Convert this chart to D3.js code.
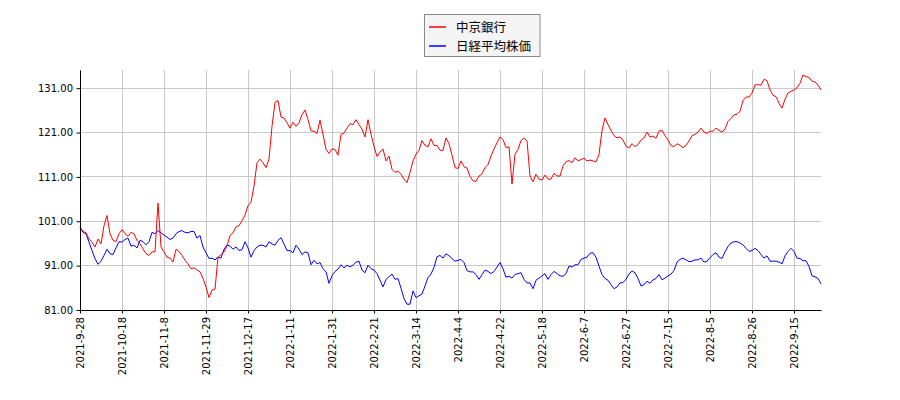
<!DOCTYPE html>
<html><head><meta charset="utf-8">
<script src="https://cdn.jsdelivr.net/npm/d3@7"></script>
<style>body{margin:0;background:#fff}svg{display:block}</style>
</head><body>
<svg id="c" width="900" height="400"></svg>
<script>
const tickLabels = ["2021-9-28","2021-10-18","2021-11-8","2021-11-29","2021-12-17","2022-1-11","2022-1-31","2022-2-21","2022-3-14","2022-4-4","2022-4-22","2022-5-18","2022-6-7","2022-6-27","2022-7-15","2022-8-5","2022-8-26","2022-9-15"];
const tickIndex = [0,14,28,42,56,70,84,98,112,126,140,154,168,182,196,210,224,238];
const yTicks = [81,91,101,111,121,131];
const seriesNames = ["中京銀行","日経平均株価"];
const seriesColors = ["#ff0000","#0000ff"];
const chukyo = [99.7,98.7,98.4,97.0,96.3,95.2,97.0,95.9,100.0,102.3,
98.2,96.7,96.4,98.2,99.1,98.2,97.6,98.5,98.2,96.7,
95.9,94.8,93.7,93.3,94.1,94.1,105.1,95.2,94.1,92.9,
92.7,91.8,94.7,94.2,93.3,92.2,91.4,90.3,90.5,90.0,
89.6,88.1,86.2,83.8,85.5,85.7,92.9,93.5,94.1,95.4,
97.8,98.4,99.7,100.0,101.1,102.4,104.5,105.3,108.9,114.2,
115.0,114.2,113.1,115.0,122.4,127.8,128.2,124.5,124.3,123.2,
122.0,123.3,122.4,123.2,125.0,126.1,123.9,121.4,121.3,120.8,
123.8,120.6,117.2,116.3,117.3,117.2,115.9,120.6,120.9,122.0,
123.0,122.8,123.9,122.8,121.8,120.0,123.9,120.6,117.9,115.6,
116.6,117.3,114.6,115.7,112.7,112.0,112.3,111.6,110.5,109.7,
112.0,114.6,116.1,117.0,119.2,118.1,117.8,119.6,118.1,118.1,
117.0,117.0,119.8,118.5,115.9,113.1,112.9,114.6,113.3,113.0,
111.1,110.1,110.0,111.2,111.7,113.1,113.8,115.7,117.3,118.7,
120.0,119.4,117.6,117.8,109.4,116.1,117.2,119.2,119.8,119.1,
111.2,109.9,111.6,110.5,110.3,111.4,110.5,110.5,111.8,111.2,
111.2,113.5,114.4,114.7,114.2,115.3,114.6,114.9,115.2,114.6,
114.8,114.6,114.4,116.1,121.5,124.3,122.8,121.5,120.3,119.8,
120.0,119.3,117.9,117.5,118.5,117.8,118.3,119.3,119.8,121.1,
120.0,120.2,119.7,121.3,121.5,120.3,119.3,118.1,117.8,118.5,
118.1,117.6,118.1,119.1,120.3,120.6,121.1,122.0,121.1,120.8,
121.3,121.3,122.0,121.5,121.1,121.8,123.5,124.2,125.0,125.1,
125.8,128.2,129.0,129.0,129.9,131.7,131.8,131.7,133.0,132.7,
130.6,129.4,129.1,127.6,126.5,128.5,129.9,130.3,130.6,131.1,
132.1,134.0,133.6,133.4,132.6,132.4,131.7,130.6];
const nikkei = [99.7,98.5,98.2,96.3,94.4,92.6,91.3,92.0,93.3,94.7,
93.7,93.5,95.0,96.4,96.3,96.9,97.2,95.4,95.6,95.0,
96.7,96.4,95.7,96.4,98.5,98.2,98.9,98.4,97.9,97.4,
96.9,97.2,98.2,98.7,98.9,98.5,98.4,98.7,98.7,97.2,
97.8,95.2,93.9,92.6,92.7,92.3,92.9,92.7,94.7,95.7,
95.4,94.7,95.2,94.4,94.6,96.4,95.0,92.9,94.4,95.2,
95.6,95.6,95.2,96.4,95.9,95.6,96.7,97.3,95.9,94.4,
94.4,93.9,95.6,94.7,93.5,94.1,93.9,91.2,92.2,91.4,
91.7,90.3,89.6,87.0,88.7,89.7,90.2,91.2,90.5,91.1,
90.7,91.1,91.8,92.0,90.0,89.4,91.1,90.3,90.0,89.2,
87.7,86.2,87.9,88.5,89.1,87.9,88.1,85.9,83.6,82.3,
82.3,85.3,83.8,84.2,84.6,86.4,88.3,89.1,90.6,93.0,
93.3,92.7,93.7,93.2,92.6,92.0,92.2,92.4,91.7,89.9,
89.6,89.6,89.0,87.9,89.0,90.0,89.7,89.2,89.7,90.7,
91.7,90.3,88.4,88.6,88.2,89.0,89.2,89.4,87.9,87.1,
87.1,85.8,87.7,88.2,88.7,89.2,87.9,89.0,89.7,89.2,
88.7,88.6,89.2,90.9,90.7,91.2,91.2,92.4,92.7,92.9,
93.8,93.9,92.9,90.9,89.0,88.1,87.7,86.7,85.8,86.2,
87.1,87.2,87.9,89.1,89.8,89.4,88.1,86.4,86.7,87.5,
87.0,87.8,88.1,89.0,87.8,88.2,88.7,89.1,89.9,91.8,
92.4,92.7,92.3,91.9,92.0,92.3,92.3,92.7,91.8,92.0,
92.8,93.5,93.9,92.9,92.6,94.1,95.3,96.1,96.4,96.4,
96.1,95.7,94.9,94.2,94.4,94.9,94.4,93.5,92.7,93.2,
92.0,92.0,92.0,91.8,91.4,93.2,94.2,94.9,94.2,92.7,
92.6,92.1,92.1,90.8,88.7,88.5,88.1,86.9];

const L=80,R=821,T=70,B=310;
const svg = d3.select("#c");
const x = d3.scaleLinear().domain([0, chukyo.length-1]).range([L,R]);
const y = d3.scaleLinear().domain([81,135.1]).range([B,T]);
const font = "DejaVu Sans, sans-serif";

// grid
const g = svg.append("g").attr("stroke","#c8c8c8").attr("stroke-width",1).attr("shape-rendering","crispEdges");
tickIndex.forEach(i=>g.append("line").attr("x1",x(i)).attr("x2",x(i)).attr("y1",T).attr("y2",B));
yTicks.forEach(v=>g.append("line").attr("x1",L).attr("x2",R).attr("y1",y(v)).attr("y2",y(v)));

// lines
const line = d3.line().x((d,i)=>x(i)).y(d=>y(d));
[chukyo,nikkei].slice().reverse().forEach((s,k)=>{
  const idx = 1-k;
  svg.append("path").datum(s).attr("fill","none").attr("stroke",seriesColors[idx]).attr("stroke-width",1).attr("d",line);
});

// axes
const ya = svg.append("g").attr("transform",`translate(${L},0)`)
  .call(d3.axisLeft(y).tickValues(yTicks).tickFormat(d=>d.toFixed(2)).tickSize(3.5).tickPadding(3.5).tickSizeOuter(0));
ya.selectAll("text").attr("font-family",font).attr("font-size",10).attr("fill","#000");
ya.selectAll("line,path").attr("stroke","#000");
const xa = svg.append("g").attr("transform",`translate(0,${B})`)
  .call(d3.axisBottom(x).tickValues(tickIndex).tickFormat((d,i)=>tickLabels[i]).tickSize(3.5).tickSizeOuter(0));
xa.selectAll("line,path").attr("stroke","#000");
xa.selectAll("text").attr("font-family",font).attr("font-size",10).attr("fill","#000")
  .attr("text-anchor","end").attr("transform","rotate(-90)").attr("x",-7).attr("y",0).attr("dy","0.35em");

// legend
const lg = svg.append("g");
lg.append("rect").attr("x",424.5).attr("y",14.5).attr("width",115.5).attr("height",42).attr("fill","#f4f4f4").attr("stroke","#8a8a8a").attr("stroke-width",1);
seriesNames.forEach((n,i)=>{
  const yy = 27 + i*19;
  lg.append("line").attr("x1",429).attr("x2",446).attr("y1",yy).attr("y2",yy).attr("stroke",seriesColors[i]).attr("stroke-width",1.5);
  lg.append("text").attr("x",456).attr("y",yy).attr("dy","0.36em").attr("font-family","Noto Sans CJK JP, sans-serif").attr("font-size",12.5).attr("fill","#000").text(n);
});
</script>
</body></html>
